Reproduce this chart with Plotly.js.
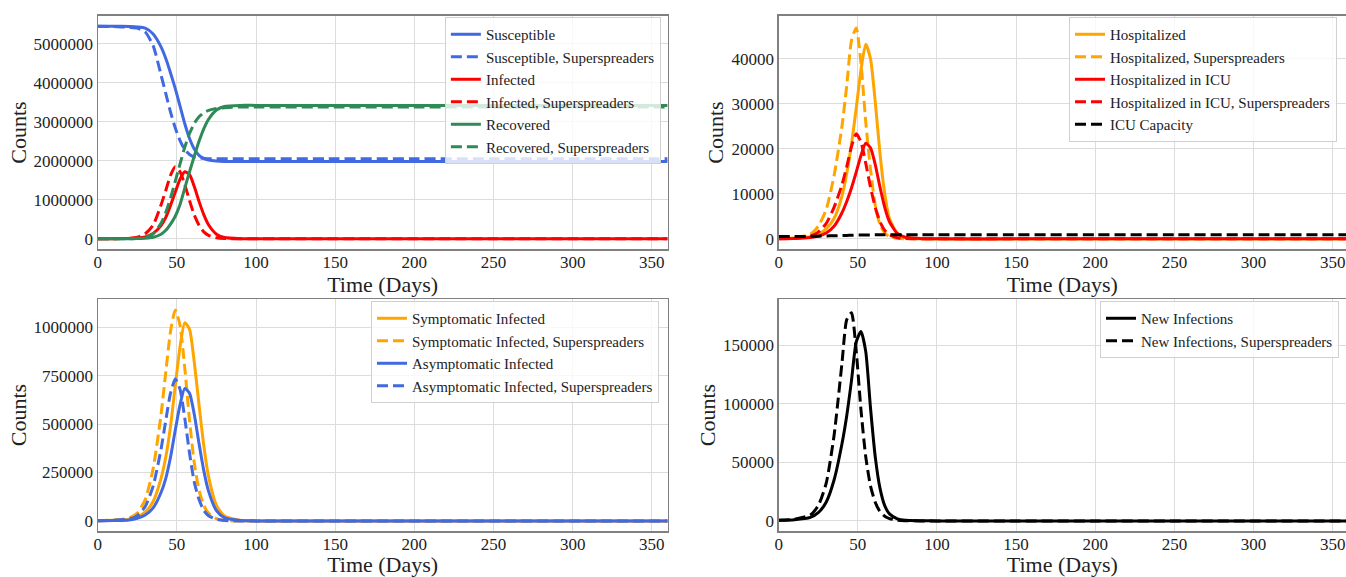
<!DOCTYPE html>
<html>
<head>
<meta charset="utf-8">
<script src="https://cdn.plot.ly/plotly-3.0.1.min.js"></script>
<style>html,body{margin:0;padding:0;background:#fff;}#chart{width:1346px;height:577px;}</style>
</head>
<body>
<div id="chart"></div>
<script>
// ---- data ----
const days = [0,10,20,25,30,35,40,43,46,49,52,55,58,61,64,67,70,75,80,90,100,150,200,250,300,360];

// panel 1
const susceptible   = [5450000,5450000,5440000,5430000,5400000,5250000,4920000,4620000,4250000,3850000,3400000,2950000,2570000,2300000,2140000,2060000,2020000,1995000,1985000,1980000,1980000,1980000,1980000,1980000,1980000,1980000];
const susceptibleSS = [5450000,5440000,5420000,5400000,5300000,4950000,4200000,3720000,3250000,2840000,2520000,2290000,2160000,2100000,2075000,2060000,2055000,2050000,2050000,2050000,2050000,2050000,2050000,2050000,2050000,2050000];
const infected      = [3000,4000,10000,20000,50000,140000,340000,550000,860000,1200000,1530000,1720000,1650000,1340000,960000,620000,360000,120000,35000,5000,1000,0,0,0,0,0];
const infectedSS    = [3000,5000,15000,40000,130000,350000,870000,1240000,1630000,1850000,1720000,1390000,980000,610000,350000,180000,90000,30000,8000,1000,0,0,0,0,0,0];
const recovered     = [0,1000,3000,8000,15000,40000,120000,220000,380000,580000,880000,1300000,1720000,2120000,2500000,2820000,3060000,3300000,3390000,3420000,3420000,3420000,3420000,3420000,3420000,3420000];
const recoveredSS   = [0,1000,5000,15000,40000,130000,400000,680000,1050000,1480000,1920000,2350000,2700000,2960000,3130000,3230000,3290000,3340000,3360000,3380000,3380000,3380000,3380000,3380000,3380000,3380000];

// panel 2
const hospitalized   = [100,200,500,1000,2200,4500,9500,14500,21000,29000,37500,43200,40000,30500,19000,10000,4500,1200,300,50,0,0,0,0,0,0];
const hospitalizedSS = [100,300,1000,2800,6500,14000,25000,34000,44000,46800,39000,26000,15500,7500,3200,1300,500,120,30,0,0,0,0,0,0,0];
const icu            = [50,100,300,600,1300,2800,5800,8300,11300,14800,18500,21200,20200,16500,11500,7000,3800,1200,350,50,0,0,0,0,0,0];
const icuSS          = [50,150,600,1500,3400,7000,12000,16000,20500,23300,21500,16800,11500,7000,3800,1900,900,250,60,0,0,0,0,0,0,0];
const icuCapacity    = [500,520,560,600,640,690,740,770,800,830,850,870,880,890,895,900,900,900,900,900,900,900,900,900,900,900];

// panel 3
const symptomatic    = [1000,3000,8000,20000,45000,100000,220000,330000,490000,700000,900000,1025000,990000,820000,600000,390000,230000,80000,25000,3000,0,0,0,0,0,0];
const symptomaticSS  = [1000,4000,15000,40000,110000,270000,550000,770000,980000,1090000,1010000,790000,520000,300000,160000,80000,40000,12000,3000,0,0,0,0,0,0,0];
const asymptomatic   = [1000,2000,5000,13000,30000,67000,147000,220000,330000,470000,600000,685000,660000,550000,400000,260000,154000,53000,17000,2000,0,0,0,0,0,0];
const asymptomaticSS = [1000,3000,10000,27000,74000,180000,370000,520000,660000,733000,680000,530000,350000,200000,110000,54000,27000,8000,2000,0,0,0,0,0,0,0];

// panel 4
const newInfections   = [500,1000,3000,7000,16000,35000,66000,90000,120000,153000,162000,145000,97000,55000,28000,13000,6000,1800,500,100,0,0,0,0,0,0];
const newInfectionsSS = [500,1500,5000,13000,32000,73000,135000,172000,178000,145000,95000,55000,30000,16000,8000,4000,2000,500,150,0,0,0,0,0,0,0];

const xTickVals = [0,50,100,150,200,250,300,350];

// ---- styling ----
const BLUE='#4169E1', RED='#FF0000', GREEN='#2E8B57', ORANGE='#FFA500', BLACK='#000000';
const DASH='11px,5px';

function tr(name, y, color, dashed, ax, leg){
  return {type:'scatter', mode:'lines', x:days, y:y, name:name,
    xaxis:'x'+ax, yaxis:'y'+ax, legend:leg,
    line:{color:color, width:3, dash: dashed?DASH:'solid', shape:'spline', smoothing:0.6},
    hoverinfo:'skip'};
}

const traces = [
  tr('Susceptible', susceptible, BLUE, false, '', 'legend'),
  tr('Susceptible, Superspreaders', susceptibleSS, BLUE, true, '', 'legend'),
  tr('Infected', infected, RED, false, '', 'legend'),
  tr('Infected, Superspreaders', infectedSS, RED, true, '', 'legend'),
  tr('Recovered', recovered, GREEN, false, '', 'legend'),
  tr('Recovered, Superspreaders', recoveredSS, GREEN, true, '', 'legend'),

  tr('Hospitalized', hospitalized, ORANGE, false, '2', 'legend2'),
  tr('Hospitalized, Superspreaders', hospitalizedSS, ORANGE, true, '2', 'legend2'),
  tr('Hospitalized in ICU', icu, RED, false, '2', 'legend2'),
  tr('Hospitalized in ICU, Superspreaders', icuSS, RED, true, '2', 'legend2'),
  tr('ICU Capacity', icuCapacity, BLACK, true, '2', 'legend2'),

  tr('Symptomatic Infected', symptomatic, ORANGE, false, '3', 'legend3'),
  tr('Symptomatic Infected, Superspreaders', symptomaticSS, ORANGE, true, '3', 'legend3'),
  tr('Asymptomatic Infected', asymptomatic, BLUE, false, '3', 'legend3'),
  tr('Asymptomatic Infected, Superspreaders', asymptomaticSS, BLUE, true, '3', 'legend3'),

  tr('New Infections', newInfections, BLACK, false, '4', 'legend4'),
  tr('New Infections, Superspreaders', newInfectionsSS, BLACK, true, '4', 'legend4')
];

const FONT = 'Liberation Serif, Times New Roman, serif';
function xax(domain, range, anchor){
  return {domain:domain, range:range, anchor:anchor, tickvals:xTickVals, tickformat:'d',
    showgrid:true, gridcolor:'#dcdcdc', gridwidth:1, zeroline:false,
    showline:true, mirror:true, linecolor:'#808080', linewidth:1.2, ticks:'', ticklen:0,
    ticklabelstandoff:-3,
    tickfont:{size:17, family:FONT, color:'#222'},
    title:{text:'Time (Days)', font:{size:22, family:FONT, color:'#222'}, standoff:0}};
}
function yax(domain, range, dtick, anchor){
  return {domain:domain, range:range, anchor:anchor, dtick:dtick, tick0:0, tickformat:'d',
    showgrid:true, gridcolor:'#dcdcdc', gridwidth:1, zeroline:false,
    showline:true, mirror:true, linecolor:'#808080', linewidth:1.2, ticks:'', ticklen:0,
    tickfont:{size:17, family:FONT, color:'#222'},
    title:{text:'Counts', font:{size:22, family:FONT, color:'#222'}, standoff:1}};
}
function leg(x, y){
  return {x:x, y:y, xanchor:'right', yanchor:'top', bgcolor:'rgba(255,255,255,0.8)',
    bordercolor:'#d0d0d0', borderwidth:1, font:{size:15, family:FONT, color:'#222'}};
}

const TOP=[0.5676,0.9731], BOT=[0.0789,0.4823];
const LEFT=[0.0726,0.4960], RIGHT=[0.5785,1.0];

const layout = {
  width:1346, height:577, margin:{l:0,r:0,t:0,b:0},
  paper_bgcolor:'#ffffff', plot_bgcolor:'#ffffff',
  font:{family:FONT, size:17, color:'#222'},
  showlegend:true,
  xaxis: xax(LEFT,[0,360],'y'),
  yaxis: yax(TOP,[-272500,5722500],1000000,'x'),
  xaxis2: xax(RIGHT,[0,358.4],'y2'),
  yaxis2: yax(TOP,[-2360,49560],10000,'x2'),
  xaxis3: xax(LEFT,[0,360],'y3'),
  yaxis3: yax(BOT,[-54700,1148700],250000,'x3'),
  xaxis4: xax(RIGHT,[0,358.4],'y4'),
  yaxis4: yax(BOT,[-9050,190050],50000,'x4'),
  legend: leg(0.491, 0.9705),
  legend2: leg(0.9933, 0.9705),
  legend3: leg(0.4896, 0.4783),
  legend4: leg(0.9948, 0.4783)
};

Plotly.newPlot('chart', traces, layout, {staticPlot:true, displayModeBar:false});
</script>
</body>
</html>
